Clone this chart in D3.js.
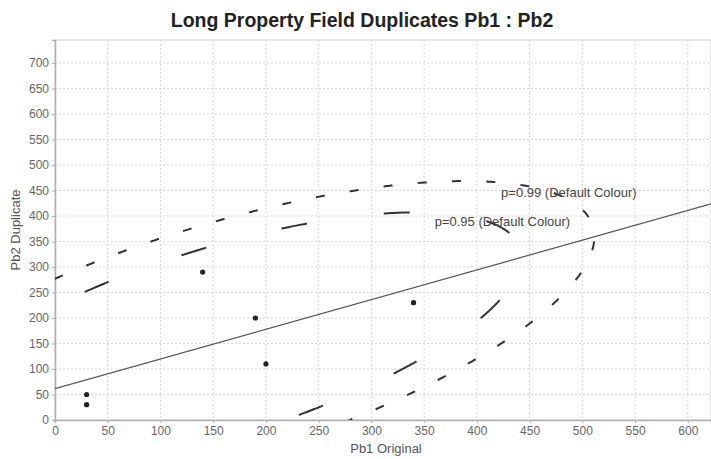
<!DOCTYPE html>
<html><head><meta charset="utf-8">
<script src="https://cdn.jsdelivr.net/npm/d3@7"></script>
<style>
body{margin:0;background:#fff;}
svg{display:block;font-family:"Liberation Sans",Arial,sans-serif;}
</style>
</head><body>
<svg id="chart" width="711" height="459"></svg>
<script>
// ---- data ----
const titleText = "Long Property Field Duplicates Pb1 : Pb2";
const xAxisTitle = "Pb1 Original";
const yAxisTitle = "Pb2 Duplicate";
const pb1Original = [30, 30, 140, 190, 200, 340];
const pb2Duplicate = [50, 30, 290, 200, 110, 230];
const ellipseLevels = [0.99, 0.95];
const ellipseChiSquare = [9.210, 5.991];   // chi-square, 2 d.f.
const ellipseLabels = ["p=0.99 (Default Colour)", "p=0.95 (Default Colour)"];
const ellipseLabelX = [423, 360];
const ellipseLabelY = [446, 390];
const xTickValues = [0, 50, 100, 150, 200, 250, 300, 350, 400, 450, 500, 550, 600];
const yTickValues = [0, 50, 100, 150, 200, 250, 300, 350, 400, 450, 500, 550, 600, 650, 700];

// ---- layout ----
const plot = {left: 55, right: 711, top: 40, bottom: 420};
const svg = d3.select("#chart");
const x = d3.scaleLinear().domain([0, 622]).range([plot.left, plot.right]);
const y = d3.scaleLinear().domain([0, 745]).range([plot.bottom, plot.top]);

svg.append("defs").append("clipPath").attr("id", "clip")
  .append("rect").attr("x", plot.left).attr("y", plot.top)
  .attr("width", plot.right - plot.left).attr("height", plot.bottom - plot.top);

// frame
svg.append("rect").attr("x", plot.left).attr("y", plot.top)
  .attr("width", plot.right - plot.left).attr("height", plot.bottom - plot.top)
  .attr("fill", "#fff").attr("stroke", "#d4d4d4").attr("stroke-width", 1);

// grid
const grid = svg.append("g");
grid.selectAll("line.v").data(xTickValues.filter(d => d > 0)).join("line")
  .attr("x1", d => x(d)).attr("x2", d => x(d))
  .attr("y1", plot.top).attr("y2", plot.bottom)
  .attr("stroke", "#d8d8d8").attr("stroke-dasharray", "2,2").attr("stroke-width", 1);
grid.selectAll("line.h").data(yTickValues.filter(d => d > 0)).join("line")
  .attr("x1", plot.left).attr("x2", plot.right)
  .attr("y1", d => y(d)).attr("y2", d => y(d))
  .attr("stroke", "#d8d8d8").attr("stroke-dasharray", "2,2").attr("stroke-width", 1);

// axes
const xAxis = svg.append("g").attr("transform", `translate(0,${plot.bottom})`)
  .call(d3.axisBottom(x).tickValues(xTickValues).tickSize(3).tickPadding(3).tickFormat(d3.format("d")));
const yAxis = svg.append("g").attr("transform", `translate(${plot.left},0)`)
  .call(d3.axisLeft(y).tickValues(yTickValues).tickSize(3).tickPadding(3).tickFormat(d3.format("d")));
[xAxis, yAxis].forEach(g => {
  g.select(".domain").attr("stroke", "#b0b0b0").attr("stroke-width", 1.5);
  g.selectAll(".tick line").attr("stroke", "#b0b0b0");
  g.selectAll(".tick text").attr("fill", "#666").attr("font-size", 12)
    .attr("font-family", "'Liberation Sans',Arial,sans-serif");
});

// ---- statistics from the points ----
const n = pb1Original.length;
const mx = d3.mean(pb1Original), my = d3.mean(pb2Duplicate);
let sxx = 0, syy = 0, sxy = 0;
for (let i = 0; i < n; i++) {
  const dx = pb1Original[i] - mx, dy = pb2Duplicate[i] - my;
  sxx += dx * dx; syy += dy * dy; sxy += dx * dy;
}
const slope = sxy / sxx, intercept = my - slope * mx;
const cxx = sxx / (n - 1), cyy = syy / (n - 1), cxy = sxy / (n - 1);
const tr = cxx + cyy, det = cxx * cyy - cxy * cxy;
const l1 = tr / 2 + Math.sqrt(tr * tr / 4 - det), l2 = tr / 2 - Math.sqrt(tr * tr / 4 - det);
const ang = Math.atan2(l1 - cxx, cxy);
const u1 = [Math.cos(ang), Math.sin(ang)], u2 = [-Math.sin(ang), Math.cos(ang)];

const plotG = svg.append("g").attr("clip-path", "url(#clip)");

// regression line
const xd = x.domain();
plotG.append("line")
  .attr("x1", x(xd[0])).attr("y1", y(intercept + slope * xd[0]))
  .attr("x2", x(xd[1])).attr("y2", y(intercept + slope * xd[1]))
  .attr("stroke", "#555").attr("stroke-width", 1.2);

// confidence ellipses (dash phase aligned to a dash seen in the picture)
const ellipseStyle = [
  {dash: [9, 25.3], phaseAt: [33.2, 306]},
  {dash: [26, 77.5], phaseAt: [39.2, 261.3]}
];
const line = d3.line().x(d => x(d[0])).y(d => y(d[1]));
const N = 1440;
ellipseLevels.forEach((p, k) => {
  const a = Math.sqrt(ellipseChiSquare[k] * l1), b = Math.sqrt(ellipseChiSquare[k] * l2);
  const base = d3.range(N).map(i => {
    const t = i / N * 2 * Math.PI;
    return [mx + a * Math.cos(t) * u1[0] + b * Math.sin(t) * u2[0],
            my + a * Math.cos(t) * u1[1] + b * Math.sin(t) * u2[1]];
  });
  // start at the far lower-left end (t = pi, outside the plot), walk clockwise
  const pts = d3.range(N + 1).map(j => base[(((N / 2 - j) % N) + N) % N]);
  const st = ellipseStyle[k];
  const ai = d3.minIndex(pts, q => Math.hypot(x(q[0]) - x(st.phaseAt[0]), y(q[1]) - y(st.phaseAt[1])));
  let La = 0;
  for (let j = 1; j <= ai; j++) La += Math.hypot(x(pts[j][0]) - x(pts[j-1][0]), y(pts[j][1]) - y(pts[j-1][1]));
  const P = st.dash[0] + st.dash[1];
  const off = (((st.dash[0] / 2 - La) % P) + P) % P;
  plotG.append("path").attr("d", line(pts))
    .attr("fill", "none").attr("stroke", "#333").attr("stroke-width", 2)
    .attr("stroke-dasharray", st.dash.join(","))
    .attr("stroke-dashoffset", off);
});

// points
plotG.selectAll("circle").data(pb1Original.map((v, i) => [v, pb2Duplicate[i]])).join("circle")
  .attr("cx", d => x(d[0])).attr("cy", d => y(d[1])).attr("r", 2.6).attr("fill", "#222");

// ellipse labels
svg.selectAll("text.el").data(ellipseLabels).join("text").attr("class", "el")
  .attr("x", (d, i) => x(ellipseLabelX[i])).attr("y", (d, i) => y(ellipseLabelY[i]))
  .attr("dy", "0.35em").attr("font-size", 13).attr("fill", "#444").text(d => d);

// titles
svg.append("text").attr("x", 362).attr("y", 27).attr("text-anchor", "middle")
  .attr("font-size", 19.5).attr("font-weight", "bold").attr("fill", "#222").text(titleText);
svg.append("text").attr("x", (plot.left + plot.right) / 2 + 3).attr("y", 453).attr("text-anchor", "middle")
  .attr("font-size", 13).attr("fill", "#555").text(xAxisTitle);
svg.append("text").attr("transform", `translate(20,${(plot.top + plot.bottom) / 2}) rotate(-90)`)
  .attr("text-anchor", "middle").attr("font-size", 13).attr("fill", "#555").text(yAxisTitle);
</script>
</body></html>
